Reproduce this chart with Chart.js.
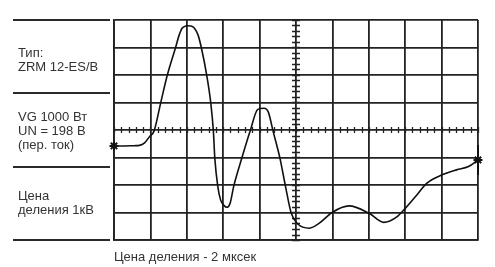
<!DOCTYPE html>
<html>
<head>
<meta charset="utf-8">
<script src="https://cdn.jsdelivr.net/npm/chart.js@4/dist/chart.umd.min.js"></script>
<style>
  html, body { margin: 0; padding: 0; background: #fff; }
  #wrap { position: relative; width: 495px; height: 267px; overflow: hidden;
    font-family: "Liberation Sans", Arial, sans-serif; font-size: 13px; color: #333; }
  #wrap canvas { position: absolute; left: 0; top: 0; }
  .rule { position: absolute; left: 13px; width: 97px; height: 0; border-top: 2px solid #2a2a2a; }
  .txt { position: absolute; left: 18px; line-height: 14px; white-space: nowrap; }
  .foot { position: absolute; left: 114px; line-height: 14px; white-space: nowrap; }
</style>
</head>
<body>
<div id="wrap">
  <canvas id="scope" width="495" height="267"></canvas>
  <div class="rule" style="top:19px"></div>
  <div class="rule" style="top:92px"></div>
  <div class="rule" style="top:166px"></div>
  <div class="rule" style="top:239px"></div>
  <div class="txt" style="top:46px">Тип:<br>ZRM 12-ES/B</div>
  <div class="txt" style="top:110px">VG 1000 Вт<br>UN = 198 В<br>(пер. ток)</div>
  <div class="txt" style="top:189px">Цена<br>деления 1кВ</div>
  <div class="foot" style="top:250px">Цена деления - 2 мксек</div>
</div>
<script>
// Oscillogram, in divisions (x: 2 µs/div, y: 1 kV/div).
const timeDiv = [0, 0.29, 0.56, 0.70, 0.84, 0.97, 1.10, 1.28, 1.46, 1.69, 1.79, 1.87, 1.97, 2.05,
  2.14, 2.20, 2.31, 2.40, 2.55, 2.66, 2.73, 2.77, 2.85, 2.93, 3.02, 3.10, 3.19, 3.29, 3.51, 3.74,
  3.95, 4.12, 4.24, 4.37, 4.56, 4.71, 4.87, 5.05, 5.37, 5.65, 5.99, 6.46, 7.01, 7.41, 7.78, 8.00,
  8.32, 8.59, 9.00, 9.41, 9.74, 10];
const voltDiv = [-0.58, -0.58, -0.57, -0.56, -0.47, -0.25, -0.04, 0.97, 1.97, 2.99, 3.45, 3.70, 3.78, 3.79,
  3.77, 3.72, 3.45, 2.99, 1.97, 0.97, -0.04, -1.03, -2.04, -2.55, -2.74, -2.81, -2.66, -2.04, -1.03, -0.04,
  0.75, 0.79, 0.65, -0.04, -1.03, -2.04, -3.03, -3.42, -3.57, -3.38, -3.00, -2.76, -3.03, -3.36, -3.15, -2.85,
  -2.36, -1.94, -1.64, -1.45, -1.33, -1.09];

const X_RANGE = [0, 10];
const Y_RANGE = [-4, 4];
const MINOR_STEP = 0.2;   // 5 sub-divisions on the centre axes
const CENTER = { x: 5, y: 0 };

const INK = "#222";

// minor ticks on the two centre graticule lines
const centreTicks = {
  id: "centreTicks",
  beforeDatasetsDraw(chart) {
    const { ctx, scales: { x, y } } = chart;
    const y0 = y.getPixelForValue(CENTER.y), x0 = x.getPixelForValue(CENTER.x);
    ctx.save();
    ctx.strokeStyle = INK;
    ctx.lineWidth = 1.3;
    ctx.beginPath();
    for (let v = X_RANGE[0]; v <= X_RANGE[1] + 1e-9; v += MINOR_STEP) {
      const px = Math.round(x.getPixelForValue(v)) + 0.5;
      ctx.moveTo(px, y0 - 3); ctx.lineTo(px, y0 + 3);
    }
    for (let v = Y_RANGE[0]; v <= Y_RANGE[1] + 1e-9; v += MINOR_STEP) {
      const py = Math.round(y.getPixelForValue(v)) + 0.5;
      ctx.moveTo(x0 - 4, py); ctx.lineTo(x0 + 4, py);
    }
    ctx.stroke();
    ctx.restore();
  },
};

const last = timeDiv.length - 1;
const points = timeDiv.map((t, i) => ({ x: t, y: voltDiv[i] }));

new Chart(document.getElementById("scope"), {
  type: "scatter",
  data: {
    datasets: [
      {
        data: points, showLine: true, borderColor: "#111", borderWidth: 1.6,
        cubicInterpolationMode: "monotone", backgroundColor: "#111", clip: false,
        pointStyle: "star",
        pointRadius: (c) => (c.dataIndex === 0 || c.dataIndex === last ? 4.5 : 0),
        pointBorderWidth: 2, pointBorderColor: "#111",
      },
      {
        // trigger cursor at the right edge
        data: [points[last]], pointStyle: "line", rotation: 90, pointRadius: 15, clip: false,
        pointBorderWidth: 2, pointBorderColor: "#111",
      },
    ],
  },
  options: {
    responsive: false, animation: false, events: [],
    layout: { padding: { left: 114, top: 20, right: 13, bottom: 27 } },
    plugins: { legend: { display: false }, tooltip: { enabled: false } },
    scales: {
      x: {
        type: "linear", min: X_RANGE[0], max: X_RANGE[1],
        ticks: { display: false, stepSize: 1 },
        grid: { color: INK, lineWidth: 1.8, drawTicks: false },
        border: { color: INK, width: 1.8 },
      },
      y: {
        min: Y_RANGE[0], max: Y_RANGE[1],
        ticks: { display: false, stepSize: 1 },
        grid: { color: INK, lineWidth: 1.8, drawTicks: false },
        border: { color: INK, width: 1.8 },
      },
    },
  },
  plugins: [centreTicks],
});
</script>
</body>
</html>
